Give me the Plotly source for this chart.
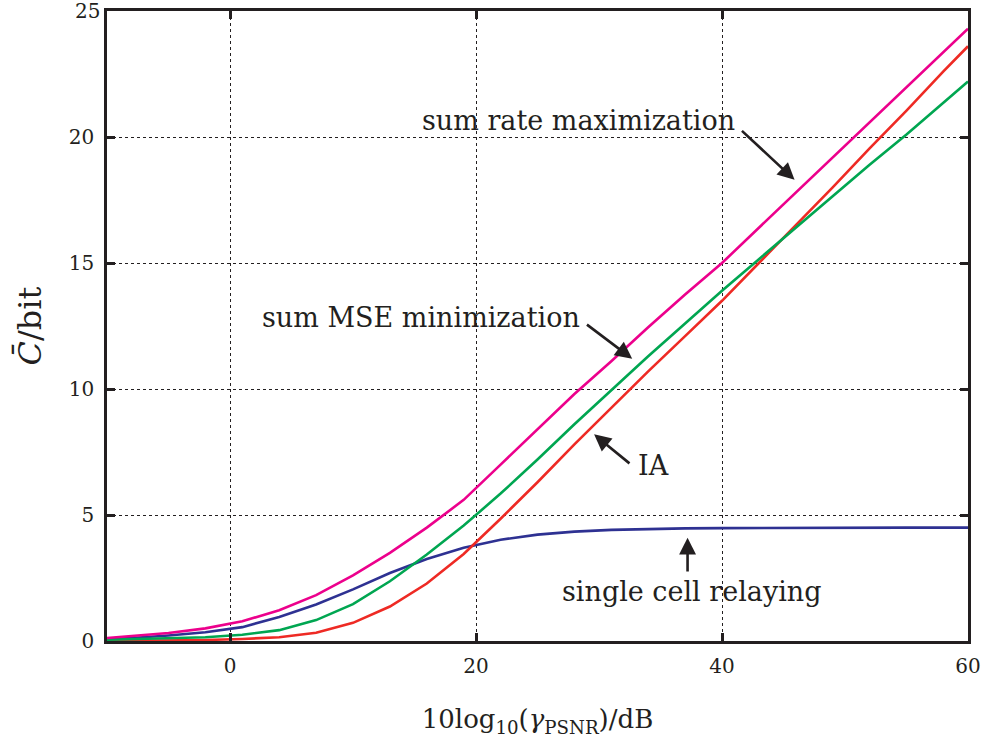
import plotly.graph_objects as go

snr_db = [-10, -8, -5, -2, 1, 4, 7, 10, 13, 16, 19, 22, 25, 28, 31, 34, 37, 40, 43, 46, 49, 52, 55, 58, 60]

sum_rate_max = [0.12, 0.2, 0.32, 0.5, 0.78, 1.22, 1.82, 2.6, 3.5, 4.5, 5.6, 7.0, 8.4, 9.8, 11.1, 12.45,
                13.75, 15.0, 16.4, 17.8, 19.2, 20.6, 22.0, 23.4, 24.3]
sum_mse_min = [0.05, 0.07, 0.1, 0.15, 0.25, 0.43, 0.83, 1.46, 2.37, 3.43, 4.58, 5.85, 7.2, 8.6, 9.95, 11.3,
               12.6, 13.9, 15.15, 16.4, 17.65, 18.9, 20.1, 21.35, 22.2]
ia = [0.0, 0.01, 0.02, 0.04, 0.08, 0.15, 0.33, 0.72, 1.37, 2.28, 3.45, 4.85, 6.3, 7.8, 9.25, 10.7,
      12.1, 13.5, 15.0, 16.5, 18.0, 19.55, 21.05, 22.6, 23.6]
single_cell = [0.08, 0.12, 0.22, 0.35, 0.55, 0.95, 1.45, 2.05, 2.7, 3.25, 3.7, 4.02, 4.22, 4.34, 4.41, 4.45,
               4.47, 4.48, 4.49, 4.49, 4.5, 4.5, 4.5, 4.5, 4.5]

x_ticks = [0, 20, 40, 60]
y_ticks = [0, 5, 10, 15, 20]
y_top_tick = 25

FONT = "'DejaVu Serif', 'Liberation Serif', serif"
INK = "#231F20"

fig = go.Figure()
series = [
    ("single cell relaying", single_cell, "#2E3192"),
    ("IA", ia, "#EE2A24"),
    ("sum MSE minimization", sum_mse_min, "#00A651"),
    ("sum rate maximization", sum_rate_max, "#EC008C"),
]
for name, ys, col in series:
    fig.add_trace(go.Scatter(x=snr_db, y=ys, mode="lines", name=name,
                             line=dict(color=col, width=2.6), showlegend=False))

# arrows: tip (x, y) and tail (ax, ay) in data coordinates
arrows = [
    (45.9, 18.3, 41.5, 20.3),
    (32.7, 11.2, 28.9, 12.6),
    (29.6, 8.2, 32.6, 7.0),
    (37.2, 4.1, 37.2, 2.7),
]
for hx, hy, axx, ayy in arrows:
    fig.add_annotation(x=hx, y=hy, ax=axx, ay=ayy, xref="x", yref="y", axref="x", ayref="y",
                       text="", showarrow=True, arrowhead=2, arrowsize=1.3, arrowwidth=2.6,
                       arrowcolor=INK)

labels = [("sum rate maximization", "right", 41.2, 20.65),
          ("sum MSE minimization", "right", 28.6, 12.85),
          ("IA", "left", 33.0, 6.95),
          ("single cell relaying", "center", 37.6, 1.95)]
for text, xa, tx, ty in labels:
    fig.add_annotation(x=tx, y=ty, xref="x", yref="y", text=text, showarrow=False,
                       xanchor=xa, yanchor="middle",
                       font=dict(family=FONT, size=27, color=INK))

# top y tick label drawn as text (plotly drops it at the very top edge)
fig.add_annotation(x=0, y=y_top_tick, xref="paper", yref="y", text=str(y_top_tick),
                   showarrow=False, xanchor="right", yanchor="middle", xshift=-5,
                   font=dict(family=FONT, size=20, color=INK))

axis_common = dict(showline=True, linecolor=INK, linewidth=2.5, mirror="ticks",
                   ticks="inside", ticklen=8, tickwidth=2.5, tickcolor=INK,
                   showgrid=True, gridcolor=INK, gridwidth=1.3, griddash="dot",
                   zeroline=False, tickfont=dict(family=FONT, size=20, color=INK))

fig.update_xaxes(range=[-10, 60.0001], tickvals=x_ticks, ticktext=[str(v) for v in x_ticks],
                 ticklabelstandoff=5,
                 title=dict(text="10log<sub>10</sub>(<i>γ</i><sub>PSNR</sub>)/dB",
                            font=dict(family=FONT, size=26, color=INK), standoff=34),
                 **axis_common)
fig.update_yaxes(range=[0, 25], tickvals=y_ticks, ticktext=[str(v) for v in y_ticks],
                 ticklabelstandoff=6,
                 title=dict(text="<i>C̄</i>/bit",
                            font=dict(family=FONT, size=32, color=INK), standoff=18),
                 **axis_common)

fig.update_layout(width=989, height=746, margin=dict(l=107, r=19, t=8, b=105),
                  plot_bgcolor="white", paper_bgcolor="white")

fig.write_html("out.html")
